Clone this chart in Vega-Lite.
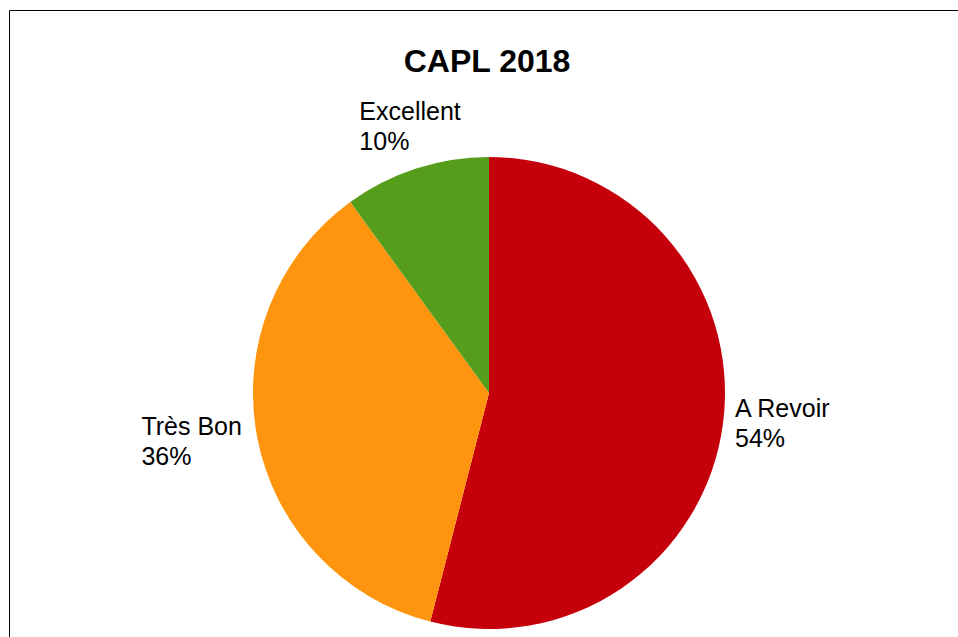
{
  "$schema": "https://vega.github.io/schema/vega-lite/v6.json",
  "width": 960,
  "height": 766,
  "padding": {"left": 9, "top": 10, "right": 0, "bottom": 0},
  "background": "white",
  "view": {"stroke": "#000000", "strokeWidth": 1, "fill": "white"},
  "config": {
    "view": {"stroke": "#000000", "strokeWidth": 1},
    "font": "Liberation Sans"
  },
  "title": {
    "text": "CAPL 2018",
    "font": "Liberation Sans",
    "fontSize": 32,
    "fontWeight": "bold",
    "color": "#000000",
    "anchor": "middle",
    "frame": "group",
    "baseline": "alphabetic",
    "offset": -94,
    "dx": -2
  },
  "data": {
    "values": [
      {"category": "A Revoir", "value": 54, "label": "A Revoir\n54%", "order": 1},
      {"category": "Très Bon", "value": 36, "label": "Très Bon\n36%", "order": 2},
      {"category": "Excellent", "value": 10, "label": "Excellent\n10%", "order": 3}
    ]
  },
  "encoding": {
    "theta": {"field": "value", "type": "quantitative", "stack": true},
    "order": {"field": "order", "type": "quantitative"}
  },
  "layer": [
    {
      "mark": {"type": "arc", "outerRadius": 236, "stroke": null},
      "encoding": {
        "color": {
          "field": "category",
          "type": "nominal",
          "scale": {
            "domain": ["A Revoir", "Très Bon", "Excellent"],
            "range": ["#c5000b", "#ff950e", "#579d1c"]
          },
          "legend": null
        }
      }
    },
    {
      "mark": {"type": "text", "radius": 248, "align": "left", "baseline": "alphabetic", "dy": -7, "lineBreak": "\n", "fontSize": 25, "lineHeight": 30, "color": "#000000"},
      "encoding": {"text": {"condition": {"test": "datum.category === 'A Revoir'", "field": "label"}, "value": ""}}
    },
    {
      "mark": {"type": "text", "radius": 248, "align": "left", "baseline": "alphabetic", "dx": -104, "dy": -4, "lineBreak": "\n", "fontSize": 25, "lineHeight": 30, "color": "#000000"},
      "encoding": {"text": {"condition": {"test": "datum.category === 'Très Bon'", "field": "label"}, "value": ""}}
    },
    {
      "mark": {"type": "text", "radius": 248, "align": "left", "baseline": "alphabetic", "dx": -53, "dy": -37, "lineBreak": "\n", "fontSize": 25, "lineHeight": 30, "color": "#000000"},
      "encoding": {"text": {"condition": {"test": "datum.category === 'Excellent'", "field": "label"}, "value": ""}}
    }
  ]
}
